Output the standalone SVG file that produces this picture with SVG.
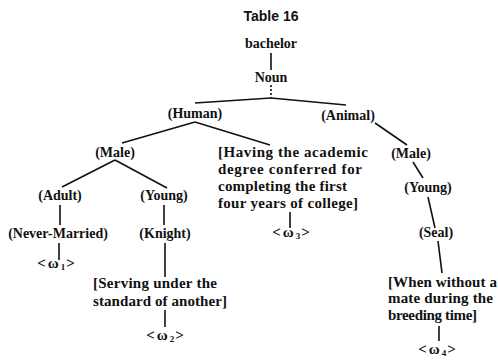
<svg xmlns="http://www.w3.org/2000/svg" width="498" height="360" viewBox="0 0 498 360">
<style>
.t{font-weight:bold;font-size:14px;fill:#111}
.d{font-size:15px}
.n{text-anchor:middle}
.w{font-size:15px;letter-spacing:2px}
.sub{font-size:9px;letter-spacing:1px}
#connectors line{stroke:#111;stroke-width:1.6;fill:none}
#connectors .dot{stroke-dasharray:2 2}
</style>
<rect width="498" height="360" fill="#fff"/>
<g id="connectors">
<line x1="271" y1="53" x2="271" y2="70"/>
<line class="dot" x1="271" y1="85" x2="271" y2="98"/>
<line x1="271" y1="98" x2="195" y2="103"/>
<line x1="271" y1="98" x2="346" y2="105"/>
<line x1="195" y1="122" x2="122" y2="143"/>
<line x1="195" y1="122" x2="270" y2="145"/>
<line x1="115" y1="160" x2="62" y2="187"/>
<line x1="115" y1="160" x2="167" y2="188"/>
<line x1="60" y1="205" x2="60" y2="225"/>
<line x1="164" y1="205" x2="164" y2="225"/>
<line x1="59" y1="243" x2="59" y2="260"/>
<line x1="165" y1="243" x2="165" y2="277"/>
<line x1="165" y1="310" x2="165" y2="327"/>
<line x1="290" y1="212" x2="290" y2="228"/>
<line x1="375" y1="123" x2="407" y2="145"/>
<line x1="413" y1="162" x2="423" y2="178"/>
<line x1="428" y1="197" x2="435" y2="228"/>
<line x1="438" y1="241" x2="442" y2="273"/>
<line x1="439" y1="326" x2="439" y2="341"/>
</g>
<g id="title"><text class="t n" font-family="Liberation Sans, Arial, sans-serif" x="271" y="21">Table 16</text></g>
<g font-family="Liberation Serif, DejaVu Serif, serif">
<g id="bachelor"><text class="t n" x="271" y="48">bachelor</text></g>
<g id="noun"><text class="t n" x="271" y="82">Noun</text></g>
<g id="human"><text class="t n" x="195" y="118">(Human)</text></g>
<g id="animal"><text class="t n" x="348" y="120">(Animal)</text></g>
<g id="male1"><text class="t n" x="115" y="157">(Male)</text></g>
<g id="def3"><text class="t d" x="218" y="157" textLength="150" lengthAdjust="spacing">[Having the academic</text><text class="t d" x="218" y="174" textLength="144" lengthAdjust="spacing">degree conferred for</text><text class="t d" x="218" y="191" textLength="129" lengthAdjust="spacing">completing the first</text><text class="t d" x="218" y="208" textLength="140" lengthAdjust="spacing">four years of college]</text></g>
<g id="w3"><text class="t n w" x="292" y="237">&lt;ω<tspan class="sub" dy="2">3</tspan><tspan dy="-2">&gt;</tspan></text></g>
<g id="male2"><text class="t n" x="411" y="158">(Male)</text></g>
<g id="adult"><text class="t n" x="60" y="200">(Adult)</text></g>
<g id="young1"><text class="t n" x="164" y="200">(Young)</text></g>
<g id="young2"><text class="t n" x="428" y="192">(Young)</text></g>
<g id="nevermarried"><text class="t n" x="58" y="238">(Never-Married)</text></g>
<g id="knight"><text class="t n" x="165" y="238">(Knight)</text></g>
<g id="seal"><text class="t n" x="436" y="237">(Seal)</text></g>
<g id="w1"><text class="t n w" x="57" y="268">&lt;ω<tspan class="sub" dy="2">1</tspan><tspan dy="-2">&gt;</tspan></text></g>
<g id="def2"><text class="t d" x="93" y="288" textLength="124" lengthAdjust="spacing">[Serving under the</text><text class="t d" x="93" y="306" textLength="134" lengthAdjust="spacing">standard of another]</text></g>
<g id="w2"><text class="t n w" x="166" y="340">&lt;ω<tspan class="sub" dy="2">2</tspan><tspan dy="-2">&gt;</tspan></text></g>
<g id="def4"><text class="t d" x="388" y="287" textLength="109" lengthAdjust="spacing">[When without a</text><text class="t d" x="388" y="303" textLength="105" lengthAdjust="spacing">mate during the</text><text class="t d" x="388" y="320" textLength="89" lengthAdjust="spacing">breeding time]</text></g>
<g id="w4"><text class="t n w" x="438" y="354">&lt;ω<tspan class="sub" dy="2">4</tspan><tspan dy="-2">&gt;</tspan></text></g>
</g>
</svg>
